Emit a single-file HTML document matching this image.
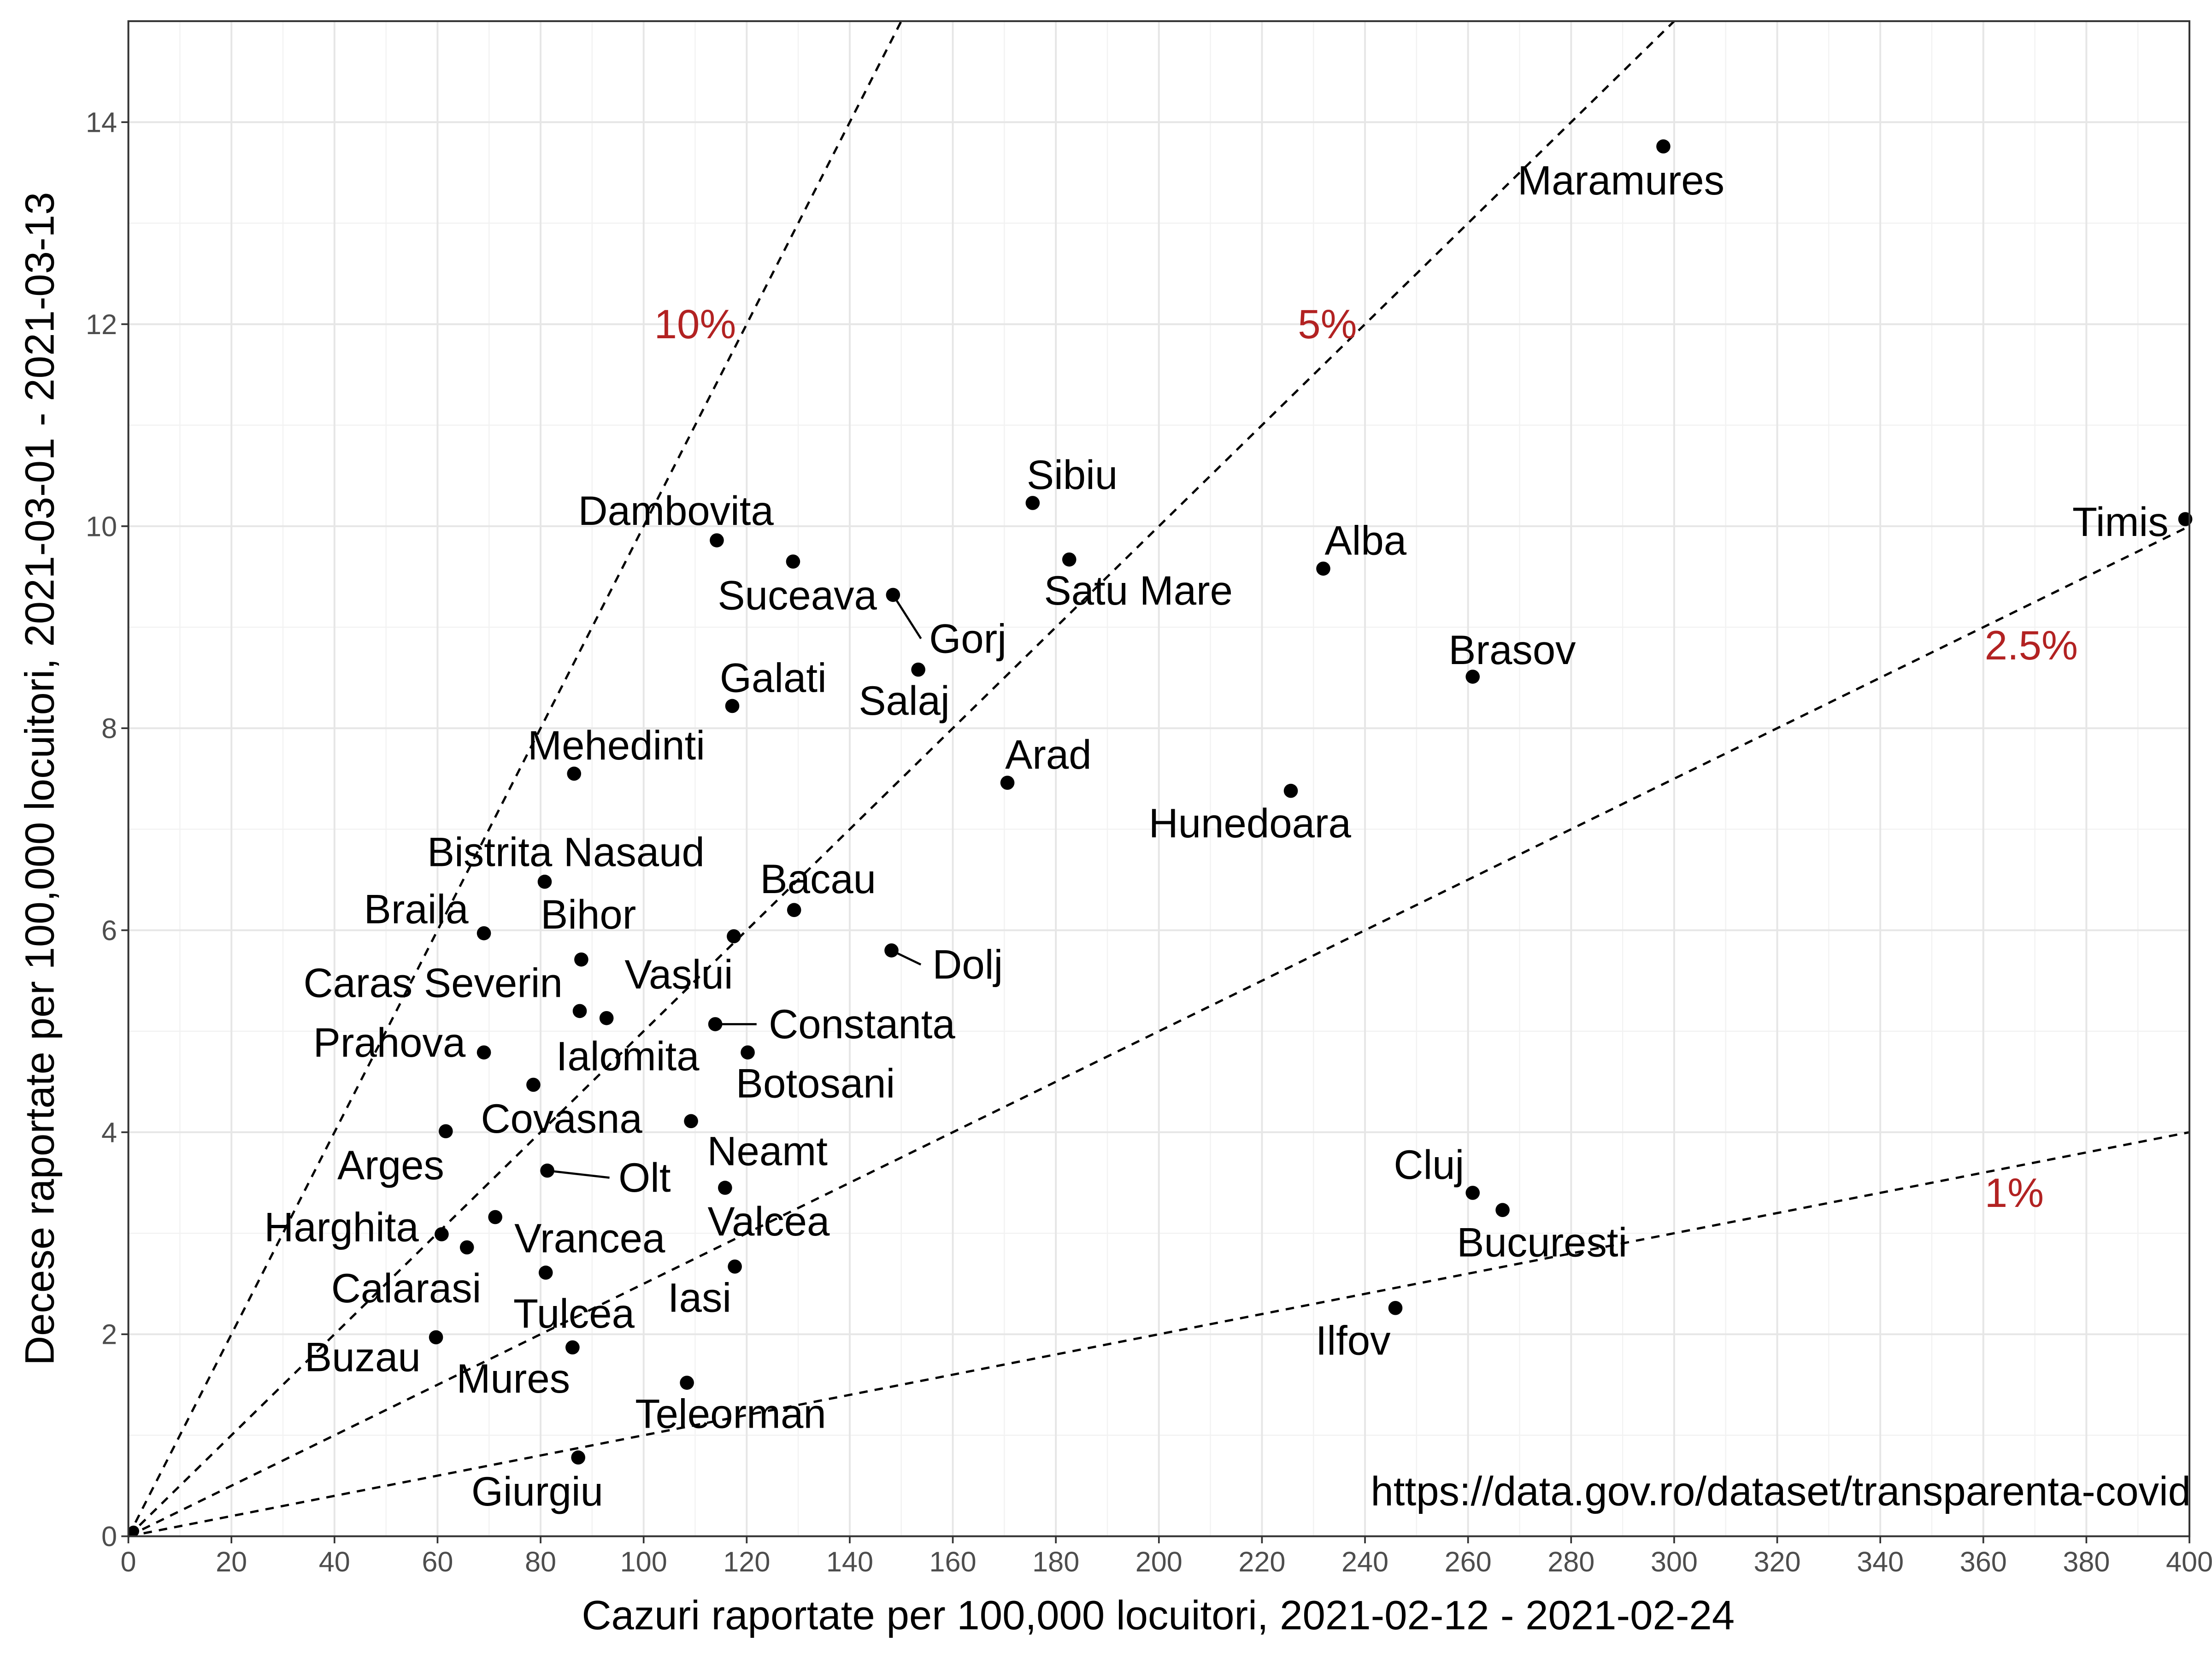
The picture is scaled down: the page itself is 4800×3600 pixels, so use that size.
<!DOCTYPE html>
<html><head><meta charset="utf-8"><style>html,body{margin:0;padding:0;background:#fff}svg{display:block}</style></head>
<body>
<svg id="chart" xmlns="http://www.w3.org/2000/svg" width="4800" height="3600" viewBox="0 0 1568 1176" font-family="'Liberation Sans', Arial, sans-serif">
<rect width="1568" height="1176" fill="#fff"/>
<g id="grid"></g>
<g id="lines"></g>
<g id="marks"></g>
<rect x="91" y="15" width="1461" height="1074" fill="none" stroke="#333" stroke-width="1.3"/>
<g id="axes"></g>
<text x="821" y="1155" font-size="29" text-anchor="middle" fill="#000">Cazuri raportate per 100,000 locuitori, 2021-02-12 - 2021-02-24</text>
<text transform="translate(38,552) rotate(-90)" font-size="29" text-anchor="middle" fill="#000">Decese raportate per 100,000 locuitori, 2021-03-01 - 2021-03-13</text>
<text x="1553" y="1067" font-size="29" text-anchor="end" fill="#000">https://data.gov.ro/dataset/transparenta-covid</text>
</svg>
<script>
const names=["Maramures","Timis","Sibiu","Dambovita","Suceava","Gorj","Satu Mare","Alba","Brasov","Salaj","Galati","Arad","Hunedoara","Mehedinti","Bistrita Nasaud","Braila","Bacau","Vaslui","Bihor","Dolj","Caras Severin","Ialomita","Constanta","Botosani","Prahova","Covasna","Neamt","Arges","Olt","Valcea","Vrancea","Harghita","Calarasi","Tulcea","Iasi","Buzau","Mures","Teleorman","Giurgiu","Cluj","Bucuresti","Ilfov"];
const cases=[297.9,399.2,175.5,114.2,129,148.4,182.6,231.9,260.9,153.3,117.2,170.6,225.6,86.5,80.8,69,129.2,117.5,87.9,148.1,87.6,92.8,113.9,120.2,69,78.6,115.8,61.6,81.3,109.2,71.2,60.8,65.7,81,117.7,59.7,86.2,108.4,87.3,260.9,266.7,245.9];
const deaths=[13.76,10.07,10.23,9.86,9.65,9.32,9.67,9.58,8.51,8.58,8.22,7.46,7.38,7.55,6.48,5.97,6.20,5.94,5.71,5.80,5.20,5.13,5.07,4.79,4.79,4.47,3.45,4.01,3.62,4.11,3.16,2.99,2.86,2.61,2.67,1.97,1.87,1.52,0.78,3.40,3.23,2.26];
const labelDx=[-30,-46,28,-29,3,53,49,30,28,-10,29,29,-29,30,15,-48,17,-39,5,54,-104,15,104,48,-67,20,30,-39,69,55,67,-71,-43,20,-25,-52,-42,31,-29,-31,28,-30];
const labelDy=[24,2,-20,-21,24,31,22,-20,-19,22,-20,-20,23,-20,-21,-17,-22,27,-32,10,-20,27,0,22,-7,24,-26,24,5,71,15,-5,29,29,22,14,22,22,24,-20,23,23];
const leader=[0,0,0,0,0,1,0,0,0,0,0,0,0,0,0,0,0,0,0,1,0,0,1,0,0,0,0,0,1,0,0,0,0,0,0,0,0,0,0,0,0,0];
const xTicks=[0,20,40,60,80,100,120,140,160,180,200,220,240,260,280,300,320,340,360,380,400];
const yTicks=[0,2,4,6,8,10,12,14];
const ratios=[0.10,0.05,0.025,0.01];
const ratioLabels=["10%","5%","2.5%","1%"];
const ratioLabelX=[110,232.7,369.3,366];
const ratioLabelY=[12.0,12.0,8.82,3.4];

const L=91,R=1552,T=15,B=1089;
const X=v=>L+v*(R-L)/400;
const Y=v=>B-v*(B-T)/15;
const NS="http://www.w3.org/2000/svg";
function mk(tag,attrs,parent,txt){const e=document.createElementNS(NS,tag);for(const k in attrs)e.setAttribute(k,attrs[k]);if(txt!==undefined)e.textContent=txt;parent.appendChild(e);return e;}
const grid=document.getElementById('grid'),lines=document.getElementById('lines'),marks=document.getElementById('marks'),axes=document.getElementById('axes');
for(let v=10;v<400;v+=20){const g=mk('line',{x1:X(v),x2:X(v),y1:T,y2:B,stroke:'#f2f2f2','stroke-width':0.8},grid);}
for(let v=1;v<15;v+=2){const g=mk('line',{x1:L,x2:R,y1:Y(v),y2:Y(v),stroke:'#f2f2f2','stroke-width':0.8},grid);}
xTicks.forEach(v=>{const g=mk('line',{x1:X(v),x2:X(v),y1:T,y2:B,stroke:'#e6e6e6','stroke-width':1.3},grid);
 const t=mk('line',{x1:X(v),x2:X(v),y1:B,y2:B+5,stroke:'#333','stroke-width':1.2},axes);
 const l=mk('text',{x:X(v),y:B+25,'font-size':20,'text-anchor':'middle',fill:'#4d4d4d'},axes,String(v));});
yTicks.forEach(v=>{const g=mk('line',{x1:L,x2:R,y1:Y(v),y2:Y(v),stroke:'#e6e6e6','stroke-width':1.3},grid);
 const t=mk('line',{x1:L-5,x2:L,y1:Y(v),y2:Y(v),stroke:'#333','stroke-width':1.2},axes);
 const l=mk('text',{x:L-8,y:Y(v)+7,'font-size':20,'text-anchor':'end',fill:'#4d4d4d'},axes,String(v));});
ratios.forEach((r,i)=>{const xe=Math.min(400,15/r);
 const ln=mk('line',{x1:X(0),y1:Y(0),x2:X(xe),y2:Y(xe*r),stroke:'#000','stroke-width':1.6,'stroke-dasharray':'6,5'},lines);
 
 
 const tx=mk('text',{x:X(ratioLabelX[i]),y:Y(ratioLabelY[i])+10,'font-size':29,'text-anchor':'middle',fill:'#b22222'},lines,ratioLabels[i]);
 
 });
names.forEach((n,i)=>{const px=X(cases[i]),py=Y(deaths[i]);
 const lx=px+labelDx[i],ly=py+labelDy[i];
 if(leader[i]){const ll=mk('line',{x1:px,y1:py,x2:lx-(labelDx[i]>0?String(n).length*8.3:0),y2:ly,stroke:'#000','stroke-width':1.5},marks);
  
  }
 const c=mk('circle',{cx:px,cy:py,r:5,fill:'#000'},marks);
 
 
 const t=mk('text',{x:lx,y:ly+10,'font-size':29,'text-anchor':'middle',fill:'#000'},marks,n);
 
 });
const o=mk('circle',{cx:X(1),cy:Y(0.05),r:4,fill:'#000'},marks);


</script>
</body></html>
